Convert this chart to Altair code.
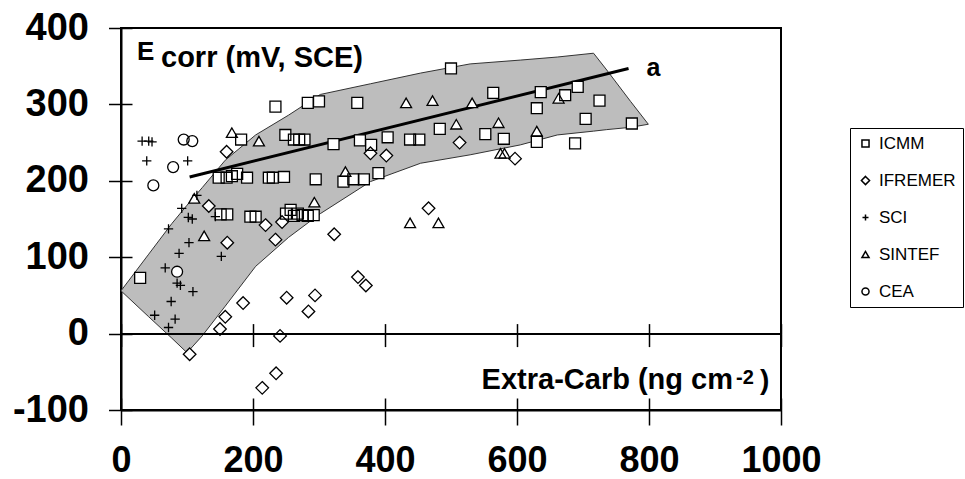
import altair as alt
import pandas as pd

FONT = "Liberation Sans"

# ---- data ----
groups = ["ICMM", "IFREMER", "SCI", "SINTEF", "CEA"]

icmm_x = [29, 234, 283, 300, 358, 500, 564, 636, 630, 692, 673, 725, 704, 774, 688, 630,
          182, 249, 262, 270, 278, 322, 362, 379, 404, 438, 452, 483, 552, 580,
          148, 160, 168, 176, 191, 224, 230, 247, 295, 337, 352, 368, 390,
          151, 161, 196, 204, 250, 257, 262, 268, 275, 283, 292]
icmm_y = [73, 297, 302, 304, 302, 347, 315, 316, 295, 323, 312, 305, 281, 275, 249, 251,
          254, 260, 254, 254, 254, 248, 253, 247, 257, 254, 254, 268, 261, 255,
          204, 204, 206, 209, 204, 204, 204, 205, 202, 199, 202, 202, 210,
          156, 156, 153, 153, 157, 162, 154, 157, 155, 154, 155]

ifremer_x = [160, 378, 402, 513, 597, 466, 133, 219, 244, 234, 161, 323, 359, 371, 251, 294,
             284, 185, 158, 150, 241, 104, 235, 214]
ifremer_y = [238, 236, 233, 250, 229, 164, 167, 142, 146, 123, 119, 130, 74, 63, 47, 50,
             29, 40, 22, 6, -3, -27, -52, -71]

sci_x = [32, 42, 47, 39, 101, 115, 92, 102, 108, 143, 72, 103, 152, 88, 67, 85, 90, 109, 76, 51, 82, 72]
sci_y = [252, 252, 251, 226, 226, 181, 164, 152, 150, 153, 137, 119, 101, 105, 86, 66, 63, 55, 42, 24, 19, 8]

sintef_x = [168, 209, 432, 472, 532, 508, 572, 575, 581, 630, 663, 293, 340, 111, 126, 438, 481]
sintef_y = [263, 252, 302, 305, 302, 274, 276, 236, 236, 265, 308, 172, 212, 177, 128, 145, 145]

cea_x = [49, 79, 95, 108, 85]
cea_y = [194, 218, 254, 252, 81]

# shaded band (upper and lower boundary at the same x values)
band_x = [0, 42, 77, 100, 123, 158, 204, 254, 302, 378, 454, 529, 605, 661, 716, 736, 772, 799]
band_hi = [56, 104, 144, 168, 191, 227, 260, 286, 313, 327, 341, 353, 358, 362, 367, 345, 304, 274]
band_lo = [56, 22, -6, -25, -3, 36, 88, 126, 157, 199, 223, 234, 247, 260, 265, 267, 270, 274]

# regression line "a"
fit_x = [104, 769]
fit_y = [205, 347]
fit_label = "a"

x_ticks = [0, 200, 400, 600, 800, 1000]
y_ticks = [-100, 0, 100, 200, 300, 400]

y_title_main = "E"
y_title_sub = "corr (mV, SCE)"
x_title_main = "Extra-Carb (ng cm"
x_title_sup = "-2"
x_title_end = ")"

# ---- tables ----
rows = []
for g, xs, ys in [("ICMM", icmm_x, icmm_y), ("IFREMER", ifremer_x, ifremer_y),
                  ("SCI", sci_x, sci_y), ("SINTEF", sintef_x, sintef_y), ("CEA", cea_x, cea_y)]:
    for a, b in zip(xs, ys):
        rows.append({"carb": a, "ecorr": b, "lab": g})
pts = pd.DataFrame(rows)
band = pd.DataFrame({"carb": band_x, "hi": band_hi, "lo": band_lo})
fit = pd.DataFrame({"carb": fit_x, "ecorr": fit_y})
ann = pd.DataFrame({"carb": [fit_x[-1]], "ecorr": [fit_y[-1]], "txt": [fit_label]})

XS = alt.Scale(domain=[0, 1000], nice=False, zero=False)
YS = alt.Scale(domain=[-100, 400], nice=False, zero=False)

common = dict(grid=False, title=None, tickColor="black", tickWidth=1.5)
plain = "datum.value + ''"

ax_bottom = alt.Axis(orient="bottom", values=x_ticks, tickSize=15, domain=True, domainColor="black",
                     domainWidth=2, labels=True, labelFont=FONT, labelFontSize=36, labelFontWeight="bold",
                     labelColor="black", labelPadding=18, labelFlush=False, labelOverlap=False,
                     labelExpr=plain, **common)
ax_bottom_in = alt.Axis(orient="bottom", values=x_ticks, offset=-12, tickSize=12, domain=False,
                        labels=False, **common)
ax_zero = alt.Axis(orient="bottom", values=x_ticks, offset=-76.4, tickSize=13, domain=True,
                   domainColor="black", domainWidth=2, labels=False, zindex=1, **common)
ax_zero_up = alt.Axis(orient="bottom", values=x_ticks, offset=-86.4, tickSize=10, domain=False,
                      labels=False, zindex=1, **common)

ax_left = alt.Axis(orient="left", values=y_ticks, tickSize=12.5, domain=True, domainColor="black",
                   domainWidth=2, labels=True, labelFont=FONT, labelFontSize=38, labelFontWeight="bold",
                   labelColor="black", labelPadding=20, labelFlush=False, labelOverlap=False,
                   labelExpr=plain, **common)
ax_left_in = alt.Axis(orient="left", values=y_ticks, offset=-11, tickSize=11, domain=False,
                      labels=False, **common)

band_layer = alt.Chart(band).mark_area(color="#bdbdbd", stroke="#333333", strokeWidth=1, opacity=1).encode(
    x=alt.X("carb:Q", scale=XS, axis=ax_bottom),
    y=alt.Y("hi:Q", scale=YS, axis=ax_left),
    y2="lo:Q",
)

fit_layer = alt.Chart(fit).mark_line(color="black", strokeWidth=3).encode(
    x=alt.X("carb:Q", scale=XS, axis=ax_bottom_in),
    y=alt.Y("ecorr:Q", scale=YS, axis=ax_left_in),
)

shape_range = ["square",
               "M0,-1.15L1.15,0L0,1.15L-1.15,0Z",
               "M-0.85,0L0.85,0M0,-0.85L0,0.85",
               "triangle-up",
               "circle"]
SHAPES = alt.Scale(domain=groups, range=shape_range)

# white interiors under the outlined symbols
under_layer = alt.Chart(pts).mark_point(filled=True, color="white", opacity=1, size=120).encode(
    x=alt.X("carb:Q", scale=XS, axis=None),
    y=alt.Y("ecorr:Q", scale=YS, axis=None),
    shape=alt.Shape("lab:N", scale=SHAPES, legend=None),
)

pts_layer = alt.Chart(pts).mark_point(filled=False, color="black", strokeWidth=1.3, opacity=1,
                                      size=120).encode(
    x=alt.X("carb:Q", scale=XS, axis=ax_zero),
    y=alt.Y("ecorr:Q", scale=YS, axis=None),
    shape=alt.Shape("lab:N", scale=SHAPES,
                    legend=alt.Legend(title=None, orient="none", legendX=729, legendY=100)),
)

a_layer = alt.Chart(ann).mark_text(align="left", baseline="alphabetic", font=FONT, fontSize=25,
                                   fontWeight="bold", color="black", dx=18, dy=8).encode(
    x=alt.X("carb:Q", scale=XS, axis=ax_zero_up),
    y=alt.Y("ecorr:Q", scale=YS, axis=None),
    text="txt:N",
)


def label(txt, px, py, size, align="left"):
    return alt.Chart(pd.DataFrame({"t": [txt]})).mark_text(
        align=align, baseline="alphabetic", font=FONT, fontSize=size, fontWeight="bold", color="black"
    ).encode(x=alt.value(px), y=alt.value(py), text="t:N")


texts = [
    label(y_title_main, 16, 32, 26),
    label(y_title_sub, 40, 38.5, 29),
    label(x_title_main, 612, 360.5, 29, align="right"),
    label(x_title_sup, 615, 356, 20),
    label(x_title_end, 639, 360.5, 28),
]

chart = alt.layer(band_layer, fit_layer, under_layer, pts_layer, a_layer, *texts).resolve_axis(
    x="independent", y="independent"
).resolve_legend(shape="independent").properties(
    width=660, height=382,
    autosize=alt.AutoSizeParams(type="none"),
    padding={"left": 121, "top": 28, "right": 184, "bottom": 69},
    background="white",
).configure_view(stroke="black", strokeWidth=2).configure_legend(
    strokeColor="black", fillColor="white", padding=7,
    labelFont=FONT, labelFontSize=17, labelColor="black",
    symbolSize=50, symbolStrokeWidth=1.5, symbolStrokeColor="black",
    rowPadding=19, labelOffset=5,
)

chart.save("out.html", embed_options={"renderer": "svg", "actions": False})
